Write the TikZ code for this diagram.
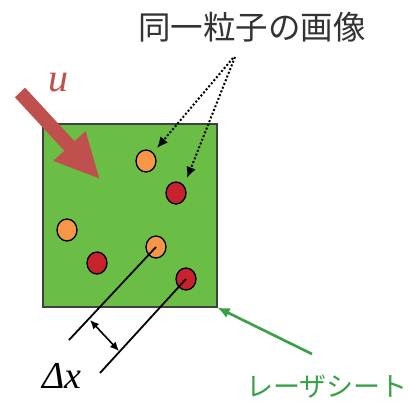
\documentclass[tikz,border=0pt]{standalone}
\usepackage{fontspec}
\setmainfont{Liberation Serif}
\newfontfamily\jpfont{Noto Sans CJK JP}
\usetikzlibrary{arrows.meta,shapes.geometric}
\definecolor{sheetgreen}{HTML}{6BBE45}
\definecolor{sheetedge}{HTML}{404040}
\definecolor{porange}{HTML}{F79646}
\definecolor{pred}{HTML}{C8232C}
\definecolor{flowred}{HTML}{C0504D}
\definecolor{labelgreen}{HTML}{3AA048}
\definecolor{titlegray}{HTML}{333333}
\tikzset{
  particle/.style={ellipse, draw=black, line width=1.3pt, minimum width=20pt, minimum height=22pt, inner sep=0pt},
  orangep/.style={particle, fill=porange},
  redp/.style={particle, fill=pred},
  pointer/.style={dotted, line width=2pt, -{Latex[length=11pt,width=10pt]}},
  trail/.style={line width=1.8pt, black},
  gap/.style={line width=1.6pt, {Latex[length=9pt,width=8pt]}-{Latex[length=9pt,width=8pt]}},
  sheetarrow/.style={line width=2.6pt, labelgreen, -{Latex[length=12pt,width=11pt]}},
}
\begin{document}
\begin{tikzpicture}[x=1pt,y=-1pt]
\useasboundingbox (0,0) rectangle (409,401);
% laser sheet
\node[draw=sheetedge, line width=1.6pt, fill=sheetgreen, minimum width=174pt, minimum height=183pt, inner sep=0pt, anchor=north west] (sheet) at (42,123) {};
% flow arrow
\fill[flowred] (25.1,87.7) -- (74.5,141.2) -- (85.6,131.1) -- (99.3,178.3) -- (53.2,160.9) -- (64.3,150.8) -- (14.9,97.3) -- cycle;
\node[text=flowred, font=\fontsize{40}{40}\selectfont\itshape] (u) at (58,83) {u};
% particles
\node[orangep] (o1) at (146,161) {};
\node[redp] (r1) at (176,193) {};
\node[orangep] (o2) at (67,230) {};
\node[redp] (r2) at (97,263) {};
\node[orangep] (o3) at (156,247) {};
\node[redp] (r3) at (186,279) {};
% title and pointers
\node[text=titlegray, font=\jpfont\fontsize{32.5}{33}\selectfont] (title) at (252,27) {同一粒子の画像};
\coordinate (ps1) at (233,58);
\coordinate (ps2) at (235,57);
\coordinate (pt1) at (157,148);
\coordinate (pt2) at (187,178);
\draw[pointer] (ps1) -- (pt1);
\draw[pointer] (ps2) -- (pt2);
% displacement lines
\coordinate (e1) at (69,340);
\coordinate (e2) at (100,373);
\draw[trail] (o3.center) -- (e1);
\draw[trail] (r3.center) -- (e2);
\coordinate (g1) at (90,320);
\coordinate (g2) at (119,351);
\draw[gap] (g1) -- (g2);
\node[font=\fontsize{38}{38}\selectfont\itshape] (dx) at (62,376) {Δx};
% laser sheet label
\coordinate (ls) at (312,354);
\draw[sheetarrow] (ls) -- (sheet.south east);
\node[text=labelgreen, font=\jpfont\fontsize{27}{27}\selectfont] (lbl) at (327,387) {レーザシート};
\end{tikzpicture}
\end{document}
